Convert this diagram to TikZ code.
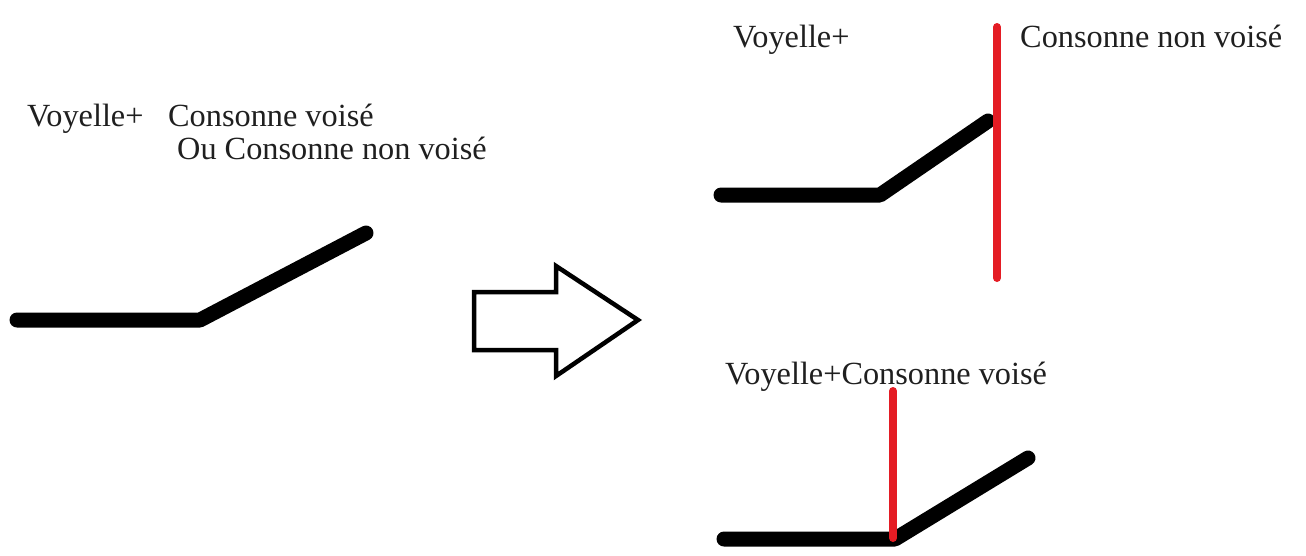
\documentclass[tikz,border=0pt]{standalone}
\usepackage{fontspec}
\setmainfont{Liberation Serif}
\begin{document}
\begin{tikzpicture}[x=1pt,y=-1pt,
  lbl/.style={anchor=base west,inner sep=0pt,font=\fontsize{32.3}{37}\selectfont,text=black!88},
  lever/.style={line width=15pt,line cap=round,line join=round,black},
  cut/.style={line width=8pt,line cap=round,draw={rgb,255:red,228;green,28;blue,36}},
  bigarrow/.style={line width=4.5pt,line join=miter,draw=black,fill=white}]
\useasboundingbox (0,0) rectangle (1306,555);
% left
\node[lbl] (v1) at (27,126) {Voyelle+};
\node[lbl] (c1) at (168,126) {Consonne voisé};
\node[lbl] (c2) at (177,159) {Ou Consonne non voisé};
\coordinate (a1) at (17,320);
\coordinate (a2) at (200,320);
\coordinate (a3) at (366,233);
\draw[lever] (a1) -- (a2) -- (a3);
% hollow arrow
\coordinate (h0) at (474,292);
\draw[bigarrow] (h0) -- (556,292) -- (556,266) -- (638,320) -- (556,376) -- (556,350) -- (474,350) -- cycle;
% top right
\node[lbl] (v2) at (733,47) {Voyelle+};
\node[lbl] (c3) at (1020,47) {Consonne non voisé};
\coordinate (b1) at (721,195);
\coordinate (b2) at (880,195);
\coordinate (b3) at (988,121);
\draw[lever] (b1) -- (b2) -- (b3);
\coordinate (r1) at (997,27);
\coordinate (r2) at (997,278);
\draw[cut] (r1) -- (r2);
% bottom right
\node[lbl] (v3) at (725,384) {Voyelle+Consonne voisé};
\coordinate (d1) at (724,539);
\coordinate (d2) at (895,539);
\coordinate (d3) at (1028,458);
\draw[lever] (d1) -- (d2) -- (d3);
\coordinate (r3) at (893,391);
\coordinate (r4) at (893,538);
\draw[cut] (r3) -- (r4);
\end{tikzpicture}
\end{document}
